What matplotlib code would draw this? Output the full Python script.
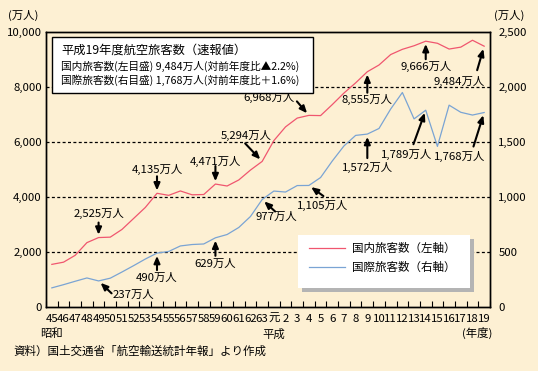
import numpy as np
import matplotlib.pyplot as plt
from matplotlib.patches import Rectangle

plt.rcParams['font.family'] = ['Noto Sans CJK JP', 'DejaVu Sans']

W, H = 538, 371
BG = '#fdf0d3'
RED = '#f0566f'
BLUE = '#7aa4d4'

# 年度（昭和45～平成19）
year_labels = ['45', '46', '47', '48', '49', '50', '51', '52', '53', '54',
               '55', '56', '57', '58', '59', '60', '61', '62', '63', '元',
               '2', '3', '4', '5', '6', '7', '8', '9', '10', '11',
               '12', '13', '14', '15', '16', '17', '18', '19']

# 国内旅客数（万人, 左軸）
domestic = [1550, 1630, 1880, 2340, 2525, 2540, 2820, 3220, 3620, 4135,
            4060, 4220, 4080, 4090, 4471, 4400, 4620, 4980, 5294, 6050,
            6550, 6870, 6968, 6960, 7360, 7780, 8150, 8555, 8800, 9180,
            9370, 9500, 9666, 9590, 9380, 9450, 9700, 9484]

# 国際旅客数（万人, 右軸）
international = [174, 203, 234, 264, 237, 262, 318, 376, 436, 490,
                 505, 555, 568, 573, 629, 659, 723, 823, 977, 1054,
                 1045, 1104, 1105, 1177, 1327, 1464, 1560, 1572, 1623, 1800,
                 1950, 1710, 1789, 1460, 1835, 1770, 1745, 1768]

dom_note_idx = [4, 9, 14, 18, 22, 27, 32, 37]
intl_note_idx = [4, 9, 14, 18, 22, 27, 32, 37]

# arrow tail / label centre offsets from the point, in image pixels (y down)
dom_layout = [((0, -15), (0, -24.5)), ((0, -17), (0, -24)), ((0, -18), (0, -23)),
              ((-17, -18), (-16, -26)), ((-12, -14), (-40, -18)), ((0, 21), (0, 27.5)),
              ((0, 18), (0, 25.5)), ((-7, 24), (-25, 35))]
intl_layout = [((13, 12.4), (35, 14)), ((0, 17), (0, 24.6)), ((0, 18), (0, 26)),
               ((13, 12), (14, 17.5)), ((14.5, 10.6), (14, 19.6)), ((0, 24), (0, 33.4)),
               ((-12.3, 34), (-19.6, 44.3)), ((-10.7, 34), (-24, 43.5))]


def px(x, y):
    return (x / W, 1 - y / H)


fig = plt.figure(figsize=(W / 100, H / 100), dpi=100, facecolor=BG)
ax = fig.add_axes([46 / W, 1 - 307 / H, 444 / W, 275 / H], facecolor=BG)
x = np.arange(len(year_labels))

ax.plot(x, domestic, color=RED, lw=0.9, label='国内旅客数（左軸）', zorder=3)
ax2 = ax.twinx()
ax2.plot(x, international, color=BLUE, lw=0.9, label='国際旅客数（右軸）', zorder=3)

ax.set_xlim(-0.5, len(x) - 0.5)
ax.set_ylim(0, 10000)
ax2.set_ylim(0, 2500)

ax.set_yticks(range(0, 10001, 2000))
ax.set_yticklabels([f'{v:,}' for v in range(0, 10001, 2000)])
ax2.set_yticks(range(0, 2501, 500))
ax2.set_yticklabels([f'{v:,}' for v in range(0, 2501, 500)])
ax.tick_params(axis='y', length=0, pad=3, labelsize=8.2)
ax2.tick_params(axis='y', length=0, pad=6, labelsize=8.2)

ax.set_xticks(x)
ax.set_xticklabels(year_labels, fontsize=8.2)
ax.tick_params(axis='x', which='major', length=0, pad=5)
ax.set_xticks(np.arange(-0.5, len(x)), minor=True)
ax.tick_params(axis='x', which='minor', direction='in', length=4, width=0.8)

for v in range(2000, 10000, 2000):
    ax.axhline(v, color='black', lw=0.9, ls=(0, (2.4, 1.9)), zorder=1)

for a in (ax, ax2):
    for s in a.spines.values():
        s.set_linewidth(1.0)
        s.set_color('black')

arrow = dict(arrowstyle='-|>,head_length=0.42,head_width=0.18', lw=1.5,
             color='black', mutation_scale=10, shrinkA=0, shrinkB=2)


def note(axis, i, v, tail, text_off):
    axis.annotate('', xy=(i, v), xytext=(tail[0], -tail[1]),
                  textcoords='offset pixels', arrowprops=arrow)
    axis.annotate(f'{v:,}万人', xy=(i, v), xytext=(text_off[0], -text_off[1]),
                  textcoords='offset pixels', ha='center', va='center', fontsize=8.2)


for i, (tail, toff) in zip(dom_note_idx, dom_layout):
    note(ax, i, domestic[i], tail, toff)
for i, (tail, toff) in zip(intl_note_idx, intl_layout):
    note(ax2, i, international[i], tail, toff)

# era labels under the year ticks
for i, era in [(0, '昭和'), (year_labels.index('元'), '平成')]:
    ax.annotate(era, xy=(i, 0), xycoords=('data', 'axes fraction'), xytext=(0, -27),
                textcoords='offset pixels', ha='center', va='center', fontsize=8.2)

fig.text(*px(23, 15), '(万人)', ha='center', va='center', fontsize=8.2)
fig.text(*px(509, 15), '(万人)', ha='center', va='center', fontsize=8.2)
fig.text(*px(477, 333), '(年度)', ha='center', va='center', fontsize=8.2)
fig.text(*px(13, 351), '資料）国土交通省「航空輸送統計年報」より作成',
         ha='left', va='center', fontsize=8.3)

# summary box
fig.patches.append(Rectangle(px(52, 93), (313 - 52) / W, (93 - 37) / H,
                             transform=fig.transFigure, facecolor='white',
                             edgecolor='black', lw=1, zorder=2))
fig.text(*px(61, 50), '平成19年度航空旅客数（速報値）', ha='left', va='center',
         fontsize=8.8, zorder=3)
fig.text(*px(61, 66.7), '国内旅客数(左目盛) 9,484万人(対前年度比▲2.2%)',
         ha='left', va='center', fontsize=7.7, zorder=3)
fig.text(*px(61, 80.7), '国際旅客数(右目盛) 1,768万人(対前年度比＋1.6%)',
         ha='left', va='center', fontsize=7.7, zorder=3)

# legend with a grey drop shadow
fig.patches.append(Rectangle(px(302.3, 291.7), 172 / W, 52.7 / H, transform=fig.transFigure,
                             facecolor='#b4b4b4', edgecolor='none', zorder=3))
fig.patches.append(Rectangle(px(298.3, 287.7), 172 / W, 52.7 / H, transform=fig.transFigure,
                             facecolor='white', edgecolor='none', zorder=4))
h1, l1 = ax.get_legend_handles_labels()
h2, l2 = ax2.get_legend_handles_labels()
leg = fig.legend(h1 + h2, l1 + l2, loc='upper left', bbox_to_anchor=px(309, 242),
                 borderaxespad=0, borderpad=0, frameon=False, fontsize=8.3,
                 handlelength=3.1, handletextpad=0.6, labelspacing=0.55)
leg.set_zorder(5)

fig.savefig('out.png', dpi=100, facecolor=BG)
